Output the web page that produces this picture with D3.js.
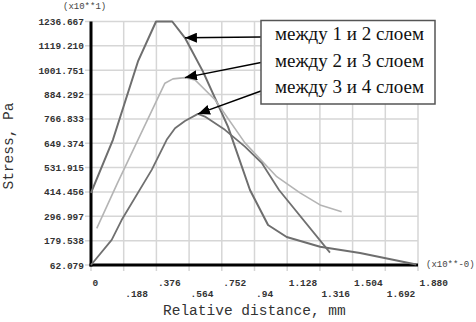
<!DOCTYPE html>
<html>
<head>
<meta charset="utf-8">
<script src="https://cdn.jsdelivr.net/npm/d3@7"></script>
<style>
  html, body { margin: 0; padding: 0; background: #fff; }
  svg { display: block; }
</style>
</head>
<body>
<svg id="chart"></svg>
<script>
// Tick values and labels
const xTicks = [0, 0.188, 0.376, 0.564, 0.752, 0.94, 1.128, 1.316, 1.504, 1.692, 1.880];
const xTickLabels = ['0', '.188', '.376', '.564', '.752', '.94', '1.128', '1.316', '1.504', '1.692', '1.880'];
const yTicks = [62.079, 179.538, 296.997, 414.456, 531.915, 649.374, 766.833, 884.292, 1001.751, 1119.210, 1236.667];
const yTickLabels = ['62.079', '179.538', '296.997', '414.456', '531.915', '649.374', '766.833', '884.292', '1001.751', '1119.210', '1236.667'];

// Series: between layers 1-2, 2-3, 3-4
const seriesNames = ['между 1 и 2 слоем', 'между 2 и 3 слоем', 'между 3 и 4 слоем'];
const dist12 = [0, 0.126, 0.270, 0.374, 0.467, 0.540, 0.644, 0.788, 0.914, 1.018, 1.125, 1.317, 1.547, 1.870];
const stress12 = [410, 666, 1044, 1236.667, 1236.667, 1158, 995, 728, 424, 255, 197, 150, 120, 64];
const dist23 = [0.033, 0.152, 0.270, 0.425, 0.471, 0.540, 0.598, 0.713, 0.885, 1.068, 1.202, 1.317, 1.441];
const stress23 = [239, 457, 666, 939, 960, 966, 955, 859, 651, 488, 410, 352, 319];
const dist34 = [0, 0.119, 0.176, 0.349, 0.435, 0.483, 0.540, 0.615, 0.655, 0.770, 0.885, 0.981, 1.081, 1.374];
const stress34 = [62.079, 183, 279, 521, 666, 722, 757, 791, 778, 714, 633, 555, 424, 122];

// Where each legend arrow points (distance on its curve)
const arrowAt = [0.540, 0.540, 0.615];

const width = 476;
const height = 322;
const margin = { top: 21.5, right: 58, bottom: 57, left: 91 };
const innerWidth = width - margin.left - margin.right;
const innerHeight = height - margin.top - margin.bottom;

const monoFont = '"Liberation Mono", "DejaVu Sans Mono", monospace';
const serifFont = '"Liberation Serif", "DejaVu Serif", serif';

const svg = d3.select('#chart')
  .attr('width', width)
  .attr('height', height)
  .attr('viewBox', `0 0 ${width} ${height}`);

const g = svg.append('g')
  .attr('transform', `translate(${margin.left},${margin.top})`);

const xScale = d3.scaleLinear()
  .domain([0, 1.880])
  .range([0, innerWidth]);

const yScale = d3.scaleLinear()
  .domain([62.079, 1236.667])
  .range([innerHeight, 0]);

// Grid lines (stick out a little past the axes, like ticks)
g.append('g')
  .attr('class', 'grid')
  .selectAll('line.h')
  .data(yTicks)
  .enter()
  .append('line')
  .attr('x1', -6)
  .attr('x2', innerWidth)
  .attr('y1', d => yScale(d))
  .attr('y2', d => yScale(d))
  .attr('stroke', '#d6d6d6')
  .attr('stroke-width', 1.5);

g.append('g')
  .attr('class', 'grid')
  .selectAll('line.v')
  .data(xTicks)
  .enter()
  .append('line')
  .attr('x1', d => xScale(d))
  .attr('x2', d => xScale(d))
  .attr('y1', 0)
  .attr('y2', innerHeight + 6)
  .attr('stroke', '#d6d6d6')
  .attr('stroke-width', 1.5);

// Y axis labels
const yAxis = g.append('g')
  .attr('class', 'y-axis')
  .call(d3.axisLeft(yScale).tickValues(yTicks).tickSize(0).tickPadding(7)
    .tickFormat((d, i) => yTickLabels[i]));
yAxis.select('.domain').remove();
yAxis.selectAll('text')
  .attr('font-family', monoFont)
  .attr('font-size', '9.5px')
  .attr('font-weight', 'bold')
  .attr('fill', '#333');

// X axis labels, staggered in two rows
const xAxis = g.append('g')
  .attr('class', 'x-axis')
  .attr('transform', `translate(0,${innerHeight})`)
  .call(d3.axisBottom(xScale).tickValues(xTicks).tickSize(0)
    .tickFormat((d, i) => xTickLabels[i]));
xAxis.select('.domain').remove();
xAxis.selectAll('text')
  .attr('y', (d, i) => i % 2 === 0 ? 21 : 32)
  .attr('dy', 0)
  .attr('x', 1)
  .style('text-anchor', 'start')
  .attr('font-family', monoFont)
  .attr('font-size', '9.5px')
  .attr('font-weight', 'bold')
  .attr('fill', '#333');

// Thick black axis lines
g.append('line')
  .attr('x1', 0).attr('x2', 0)
  .attr('y1', 0).attr('y2', innerHeight + 1.5)
  .attr('stroke', '#000')
  .attr('stroke-width', 3);
g.append('line')
  .attr('x1', -1.5).attr('x2', innerWidth)
  .attr('y1', innerHeight).attr('y2', innerHeight)
  .attr('stroke', '#000')
  .attr('stroke-width', 3);

// Curves
const line = d3.line()
  .x(d => xScale(d[0]))
  .y(d => yScale(d[1]));

const series = [
  { x: dist12, y: stress12, color: '#6e6e6e', w: 2 },
  { x: dist23, y: stress23, color: '#b4b4b4', w: 1.6 },
  { x: dist34, y: stress34, color: '#707070', w: 1.8 }
];

series.forEach(s => {
  g.append('path')
    .datum(s.x.map((v, i) => [v, s.y[i]]))
    .attr('fill', 'none')
    .attr('stroke', s.color)
    .attr('stroke-width', s.w)
    .attr('stroke-linejoin', 'round')
    .attr('d', line);
});

// Scale multipliers
svg.append('text')
  .attr('x', 63)
  .attr('y', 9)
  .attr('font-family', monoFont)
  .attr('font-size', '9px')
  .attr('fill', '#444')
  .text('(x10**1)');

svg.append('text')
  .attr('x', 426)
  .attr('y', 267)
  .attr('font-family', monoFont)
  .attr('font-size', '9px')
  .attr('fill', '#444')
  .text('(x10**-0)');

// Axis titles
svg.append('text')
  .attr('x', 163)
  .attr('y', 315)
  .attr('font-family', monoFont)
  .attr('font-size', '14.5px')
  .attr('fill', '#333')
  .text('Relative distance, mm');

svg.append('text')
  .attr('transform', 'translate(13,146) rotate(-90)')
  .attr('text-anchor', 'middle')
  .attr('font-family', monoFont)
  .attr('font-size', '14.5px')
  .attr('fill', '#333')
  .text('Stress, Pa');

// Legend box with arrows
const box = { x: 261, y: 20.5, w: 174, h: 83.5 };

svg.append('defs').append('marker')
  .attr('id', 'arrow')
  .attr('viewBox', '0 0 12 10')
  .attr('refX', 12)
  .attr('refY', 5)
  .attr('markerWidth', 12)
  .attr('markerHeight', 10)
  .attr('markerUnits', 'userSpaceOnUse')
  .attr('orient', 'auto')
  .append('path')
  .attr('d', 'M0,0 L12,5 L0,10 Z')
  .attr('fill', '#000');

const arrowStartY = [37, 62.5, 91];
series.forEach((s, i) => {
  const idx = s.x.indexOf(arrowAt[i]);
  svg.append('line')
    .attr('x1', box.x)
    .attr('y1', arrowStartY[i])
    .attr('x2', margin.left + xScale(s.x[idx]))
    .attr('y2', margin.top + yScale(s.y[idx]))
    .attr('stroke', '#000')
    .attr('stroke-width', 1.5)
    .attr('marker-end', 'url(#arrow)');
});

svg.append('rect')
  .attr('x', box.x)
  .attr('y', box.y)
  .attr('width', box.w)
  .attr('height', box.h)
  .attr('fill', '#fff')
  .attr('stroke', '#555')
  .attr('stroke-width', 1.5);

svg.selectAll('.legend-label')
  .data(seriesNames)
  .enter()
  .append('text')
  .attr('class', 'legend-label')
  .attr('x', 275)
  .attr('y', (d, i) => 40 + i * 26.7)
  .attr('font-family', serifFont)
  .attr('font-size', '19px')
  .attr('fill', '#111')
  .text(d => d);
</script>
</body>
</html>
